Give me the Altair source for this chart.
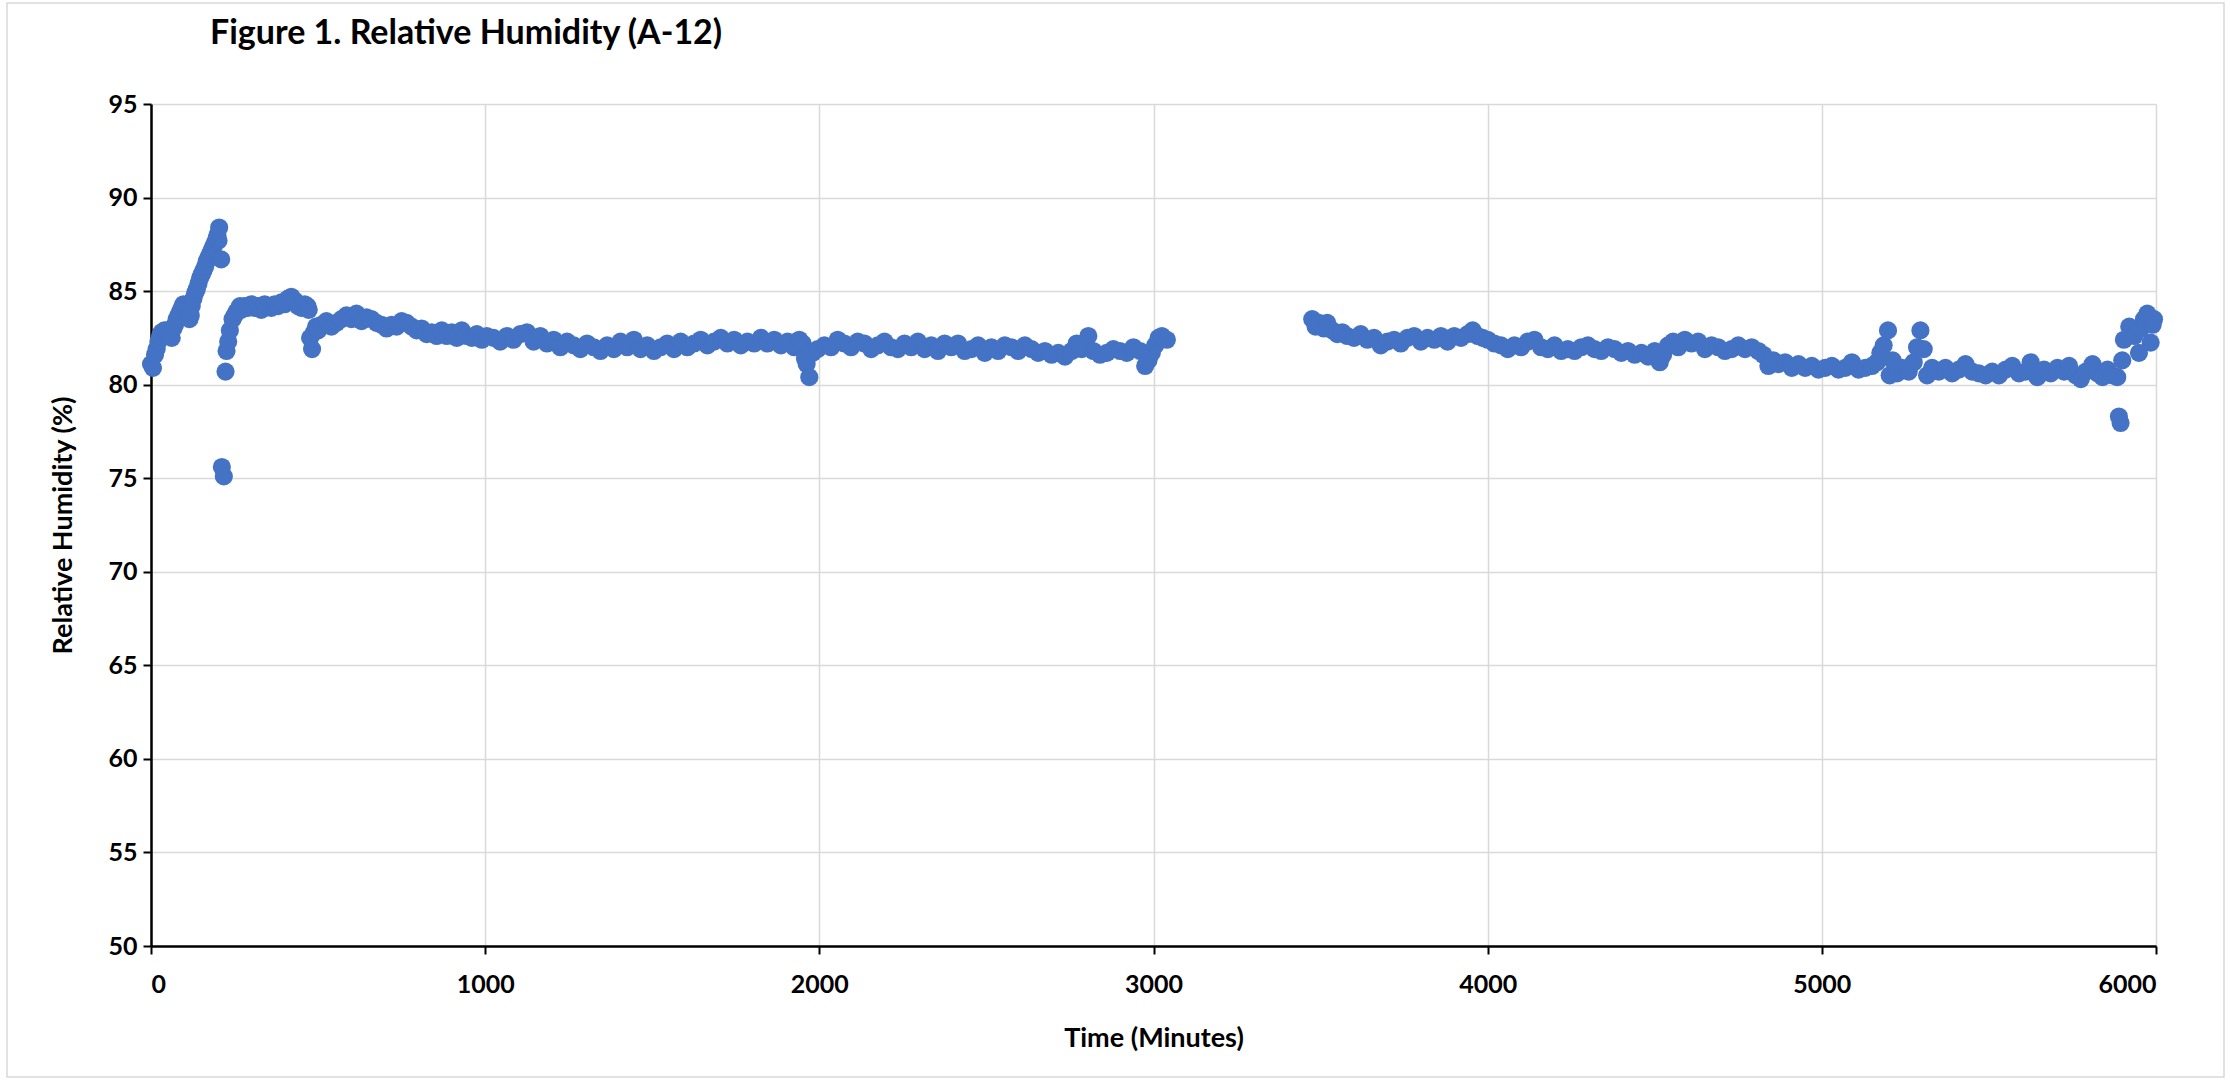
import altair as alt
import pandas as pd

# ---- data (time in minutes, relative humidity in %) ----
t_rise = [0, 6, 12, 17, 22, 27, 32, 40, 47, 52, 57, 62, 67, 72, 77, 82, 87, 92, 97, 102,
          107, 111, 115, 119, 122, 127, 132, 137, 142, 147, 152, 157, 162, 167, 172, 177,
          182, 187, 192, 196, 199, 202, 204, 210, 212, 218, 223, 226, 231, 236, 244, 250,
          256, 266]
rh_rise = [81.1, 80.9, 81.6, 81.9, 82.3, 82.6, 82.8, 82.9, 82.9, 82.7, 82.6, 82.5, 83.0, 83.2,
           83.5, 83.7, 83.9, 84.1, 84.3, 84.2, 84.1, 83.8, 83.5, 83.7, 84.2, 84.6, 84.9, 85.1,
           85.4, 85.7, 85.9, 86.1, 86.3, 86.6, 86.8, 87.0, 87.2, 87.4, 87.6, 87.8, 88.0, 87.7,
           88.4, 86.7, 75.6, 75.1, 80.7, 81.8, 82.3, 82.9, 83.5, 83.7, 83.9, 84.2]

t_plateau = [270, 280, 290, 300, 310, 320, 330, 340, 350, 360, 370, 380, 390, 400, 410, 420,
             430, 440, 450, 460, 468, 472, 476, 482, 488, 494, 500]
rh_plateau = [84.0, 84.2, 84.1, 84.3, 84.1, 84.2, 84.0, 84.3, 84.2, 84.1, 84.3, 84.2, 84.4, 84.3,
              84.6, 84.7, 84.5, 84.2, 84.1, 84.3, 84.2, 84.0, 82.5, 81.9, 82.8, 83.1, 82.9]

t_day1 = [510, 525, 540, 555, 570, 585, 600, 615, 630, 645, 660, 675, 690, 705, 720, 735, 750,
          765, 780, 795, 810, 825, 840, 855, 870, 885, 900, 915, 930, 945, 960, 975, 990]
rh_day1 = [83.2, 83.4, 83.1, 83.3, 83.5, 83.7, 83.5, 83.8, 83.4, 83.6, 83.5, 83.3, 83.2, 83.0,
           83.2, 83.1, 83.4, 83.3, 83.1, 82.9, 83.0, 82.7, 82.8, 82.6, 82.9, 82.6, 82.8, 82.5,
           82.9, 82.6, 82.5, 82.7, 82.4]

t_day2 = [1005, 1025, 1045, 1065, 1085, 1105, 1125, 1145, 1165, 1185, 1205, 1225, 1245, 1265,
          1285, 1305, 1325, 1345, 1365, 1385, 1405, 1425, 1445, 1465, 1485, 1505, 1525, 1545,
          1565, 1585, 1605, 1625, 1645, 1665, 1685, 1705, 1725, 1745, 1765, 1785, 1805, 1825,
          1845, 1865, 1885, 1905, 1925, 1940, 1950, 1957, 1962, 1970, 1980]
rh_day2 = [82.6, 82.5, 82.3, 82.6, 82.4, 82.7, 82.8, 82.3, 82.6, 82.2, 82.4, 82.0, 82.3, 82.1,
           81.9, 82.2, 82.0, 81.8, 82.1, 81.9, 82.3, 82.0, 82.4, 81.9, 82.1, 81.8, 82.0, 82.2,
           81.9, 82.3, 82.0, 82.2, 82.4, 82.1, 82.3, 82.5, 82.2, 82.4, 82.1, 82.3, 82.2, 82.5,
           82.2, 82.4, 82.1, 82.3, 82.0, 82.4, 82.2, 81.4, 81.1, 80.4, 81.7]

t_day3 = [1995, 2015, 2035, 2055, 2075, 2095, 2115, 2135, 2155, 2175, 2195, 2215, 2235, 2255,
          2275, 2295, 2315, 2335, 2355, 2375, 2395, 2415, 2435, 2455, 2475, 2495, 2515, 2535,
          2555, 2575, 2595, 2615, 2635, 2655, 2675, 2695, 2715, 2735, 2755, 2770, 2785, 2805,
          2820, 2840, 2860, 2880, 2900, 2920, 2940, 2960, 2975, 2985, 2995, 3005, 3015, 3025,
          3040]
rh_day3 = [81.9, 82.1, 82.0, 82.4, 82.2, 82.0, 82.3, 82.2, 81.9, 82.1, 82.3, 82.0, 81.9, 82.2,
           82.0, 82.3, 81.9, 82.1, 81.8, 82.2, 82.0, 82.2, 81.8, 81.9, 82.1, 81.7, 82.0, 81.8,
           82.1, 82.0, 81.8, 82.1, 81.9, 81.7, 81.8, 81.6, 81.7, 81.5, 81.8, 82.2, 81.9, 82.6,
           81.8, 81.6, 81.7, 81.9, 81.8, 81.7, 82.0, 81.8, 81.0, 81.3, 81.7, 82.1, 82.5, 82.6,
           82.4]

t_day4 = [3475, 3485, 3495, 3510, 3520, 3535, 3550, 3565, 3580, 3600, 3620, 3640, 3660, 3680,
          3700, 3720, 3740, 3760, 3780, 3800, 3820, 3840, 3860, 3880, 3900, 3920, 3940, 3955,
          3970, 3985, 4000, 4020, 4040, 4060, 4080, 4100, 4120, 4140, 4160, 4180, 4200, 4220,
          4240, 4260, 4280, 4300, 4320, 4340, 4360, 4380, 4400, 4420, 4440, 4460, 4480, 4500,
          4515, 4525, 4540, 4555, 4570, 4590, 4610, 4630, 4650, 4670, 4690, 4710, 4730, 4750,
          4770, 4790, 4810, 4825]
rh_day4 = [83.5, 83.1, 83.3, 83.0, 83.3, 82.9, 82.7, 82.8, 82.6, 82.5, 82.7, 82.4, 82.5, 82.1,
           82.3, 82.4, 82.2, 82.5, 82.6, 82.3, 82.5, 82.4, 82.6, 82.3, 82.6, 82.5, 82.7, 82.9,
           82.6, 82.5, 82.4, 82.2, 82.1, 81.9, 82.1, 82.0, 82.3, 82.4, 82.0, 81.9, 82.1, 81.8,
           81.9, 81.8, 82.0, 82.1, 81.9, 81.8, 82.0, 81.9, 81.7, 81.8, 81.6, 81.7, 81.5, 81.8,
           81.2, 81.6, 82.1, 82.3, 82.0, 82.4, 82.2, 82.3, 81.9, 82.1, 82.0, 81.8, 81.9, 82.1,
           81.9, 82.0, 81.8, 81.6]

t_day5 = [4840, 4855, 4870, 4890, 4910, 4930, 4950, 4970, 4990, 5010, 5030, 5050, 5070, 5090,
          5110, 5130, 5150, 5165, 5175, 5185, 5198, 5203, 5212, 5225, 5240, 5260, 5275, 5285,
          5295, 5305, 5315, 5330, 5350, 5370, 5390, 5410, 5430, 5450, 5470, 5490, 5510, 5530,
          5550, 5570, 5590, 5610, 5625, 5645, 5665, 5685, 5705, 5725, 5740, 5760, 5775, 5790,
          5810, 5825, 5840, 5855, 5870, 5884, 5889, 5894, 5899, 5904, 5920, 5935, 5949, 5955,
          5964, 5974, 5984, 5990, 5994]
rh_day5 = [81.0, 81.3, 81.1, 81.2, 80.9, 81.1, 80.9, 81.0, 80.8, 80.9, 81.0, 80.8, 80.9, 81.2,
           80.8, 80.9, 81.0, 81.2, 81.7, 82.1, 82.9, 80.5, 81.3, 80.6, 80.9, 80.7, 81.2, 82.0,
           82.9, 81.9, 80.5, 80.9, 80.7, 80.9, 80.6, 80.8, 81.1, 80.7, 80.6, 80.5, 80.7, 80.5,
           80.8, 81.0, 80.6, 80.7, 81.2, 80.4, 80.8, 80.6, 80.9, 80.7, 81.0, 80.5, 80.3, 80.7,
           81.1, 80.6, 80.4, 80.8, 80.5, 80.4, 78.3, 77.95, 81.3, 82.4, 83.1, 82.6, 81.7, 83.0,
           83.5, 83.8, 82.25, 83.2, 83.5]

x_ticks = [0, 1000, 2000, 3000, 4000, 5000, 6000]
y_ticks = [50, 55, 60, 65, 70, 75, 80, 85, 90, 95]
chart_title = "Figure 1. Relative Humidity (A-12)"

times = t_rise + t_plateau + t_day1 + t_day2 + t_day3 + t_day4 + t_day5
values = rh_rise + rh_plateau + rh_day1 + rh_day2 + rh_day3 + rh_day4 + rh_day5
df = pd.DataFrame({"time": times, "rh": values})

FONT = "Lato"
W, H = 2005, 842

points = alt.Chart(df).mark_circle(size=330, color="#4472C4", opacity=1).encode(
    x=alt.X("time:Q",
            scale=alt.Scale(domain=[0, 6000], nice=False, zero=False),
            axis=alt.Axis(values=x_ticks, title="Time (Minutes)", format="d",
                          labelBaseline="middle", labelPadding=30,
                          titleX=W / 2, titleY=92, titleBaseline="middle")),
    y=alt.Y("rh:Q",
            scale=alt.Scale(domain=[50, 95], nice=False, zero=False),
            axis=alt.Axis(values=y_ticks, title="Relative Humidity (%)",
                          labelPadding=6,
                          titleX=-88, titleY=H / 2, titleAngle=-90,
                          titleBaseline="middle", titleAlign="center")),
)

border = alt.Chart(pd.DataFrame({"k": [0]})).mark_rect(
    fill="transparent", stroke="#d9d9d9", strokeWidth=1.5
).encode(x=alt.value(-144), x2=alt.value(2073), y=alt.value(-101), y2=alt.value(973))

title_text = alt.Chart(pd.DataFrame({"label": [chart_title]})).mark_text(
    font=FONT, fontSize=34, fontWeight="bold", color="black",
    align="left", baseline="alphabetic"
).encode(text="label:N", x=alt.value(59), y=alt.value(-60))

chart = alt.layer(border, points, title_text).properties(
    width=W, height=H,
    padding={"left": 151, "top": 104, "right": 75, "bottom": 135},
    autosize=alt.AutoSizeParams(type="none"),
).configure(background="white").configure_view(stroke=None).configure_axis(
    labelFont=FONT, labelFontSize=25, labelFontWeight="bold", labelColor="black",
    titleFont=FONT, titleFontSize=27, titleFontWeight="bold", titleColor="black",
    domainColor="black", domainWidth=2.5, tickColor="black", tickWidth=2, tickSize=8,
    gridColor="#d9d9d9", gridWidth=1.5,
)

chart.save("out.html", embed_options={"renderer": "svg", "actions": False})
